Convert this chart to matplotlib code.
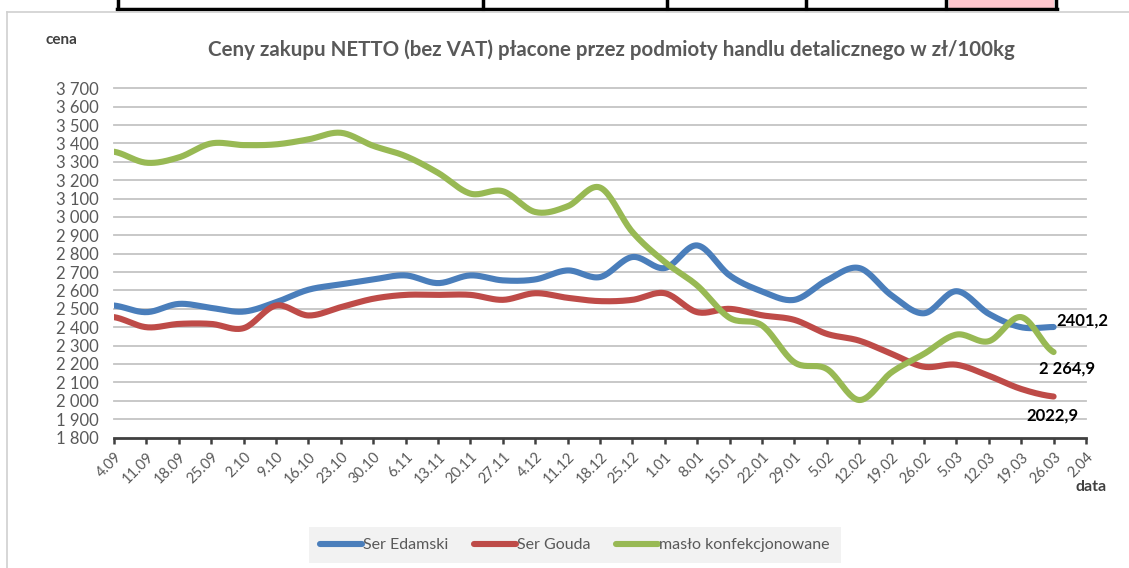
import numpy as np
import matplotlib
matplotlib.use("Agg")
import matplotlib.pyplot as plt
from matplotlib.lines import Line2D
from matplotlib.patches import Rectangle

# ---------------- data ----------------
dates = ["4.09", "11.09", "18.09", "25.09", "2.10", "9.10", "16.10", "23.10", "30.10",
         "6.11", "13.11", "20.11", "27.11", "4.12", "11.12", "18.12", "25.12", "1.01",
         "8.01", "15.01", "22.01", "29.01", "5.02", "12.02", "19.02", "26.02", "5.03",
         "12.03", "19.03", "26.03", "2.04"]

ser_edamski = [2518, 2482, 2527, 2505, 2485, 2536, 2604, 2633, 2660, 2682, 2640,
               2682, 2655, 2660, 2709, 2673, 2782, 2722, 2845, 2682, 2595, 2549,
               2655, 2722, 2573, 2476, 2596, 2473, 2400, 2401.2]
ser_gouda = [2455, 2400, 2418, 2418, 2395, 2518, 2464, 2509, 2555, 2576, 2576,
             2576, 2549, 2585, 2560, 2542, 2549, 2585, 2482, 2500, 2465, 2440,
             2364, 2327, 2255, 2185, 2196, 2136, 2064, 2022.9]
maslo = [3355, 3295, 3324, 3400, 3391, 3395, 3422, 3458, 3387, 3331, 3240,
         3127, 3140, 3027, 3058, 3160, 2918, 2755, 2627, 2451, 2410, 2209,
         2173, 2004, 2155, 2255, 2360, 2324, 2455, 2264.9]

series_names = ["Ser Edamski", "Ser Gouda", "masło konfekcjonowane"]
end_labels = ["2401,2", "2022,9", "2 264,9"]
y_ticks = list(range(1800, 3701, 100))

title = "Ceny zakupu NETTO (bez VAT) płacone przez podmioty handlu detalicznego w zł/100kg"

# ---------------- style ----------------
W, H = 1129, 568
FONT = "Lato"
colors = ["#4a7ebb", "#be4b48", "#98b954"]
gray_txt = "#595959"


def fx(x):
    return x / W


def fy(y):
    return 1 - y / H


def smooth(y, n=20):
    """Catmull-Rom spline through the points (like Excel's smoothed line)."""
    y = np.asarray(y, float)
    x = np.arange(len(y), dtype=float)
    P = np.concatenate([[y[0]], y, [y[-1]]])
    xs, ys = [], []
    t = np.linspace(0, 1, n, endpoint=False)
    for i in range(len(y) - 1):
        p0, p1, p2, p3 = P[i], P[i + 1], P[i + 2], P[i + 3]
        m1 = (p2 - p0) / 2
        m2 = (p3 - p1) / 2
        h00 = 2 * t**3 - 3 * t**2 + 1
        h10 = t**3 - 2 * t**2 + t
        h01 = -2 * t**3 + 3 * t**2
        h11 = t**3 - t**2
        ys.append(h00 * p1 + h10 * m1 + h01 * p2 + h11 * m2)
        xs.append(x[i] + t)
    xs.append([x[-1]])
    ys.append([y[-1]])
    return np.concatenate(xs), np.concatenate(ys)


fig = plt.figure(figsize=(W / 100, H / 100), dpi=100)
fig.patch.set_facecolor("white")

# top table strip
fig.add_artist(Rectangle((fx(949), fy(8)), fx(1054) - fx(949), fy(0) - fy(8),
                         transform=fig.transFigure, facecolor="#ffc7ce", edgecolor="none"))
fig.add_artist(Line2D([fx(117), fx(1057)], [fy(9), fy(9)], transform=fig.transFigure,
                      color="black", lw=2.5))
for xv in [118, 483, 667, 806, 946, 1056]:
    fig.add_artist(Line2D([fx(xv), fx(xv)], [fy(0), fy(9)], transform=fig.transFigure,
                          color="black", lw=2.5))
# chart frame
fig.add_artist(Line2D([fx(7), fx(1129)], [fy(12), fy(12)], transform=fig.transFigure,
                      color="#d0d0d0", lw=1.2))
fig.add_artist(Line2D([fx(7), fx(7)], [fy(12), fy(568)], transform=fig.transFigure,
                      color="#d0d0d0", lw=1.2))

# axes
left, right, top, bottom = 114, 1086, 88.3, 437.5
ax = fig.add_axes([fx(left), fy(bottom), fx(right) - fx(left), fy(top) - fy(bottom)])
ax.set_facecolor("none")
ax.set_xlim(0, len(dates) - 1)
ax.set_ylim(1800, 3700)

ax.set_yticks(y_ticks)
ax.set_yticklabels([f"{v:,}".replace(",", " ") for v in y_ticks],
                   fontfamily=FONT, fontsize=12, color=gray_txt)
ax.tick_params(axis="y", length=0, pad=11)
ax.set_xticks(range(len(dates)))
ax.set_xticklabels(dates, rotation=45, ha="right", va="top", rotation_mode="anchor",
                   fontfamily=FONT, fontsize=10.5, color=gray_txt)
ax.tick_params(axis="x", direction="out", length=4, width=1.8, color="#404040", pad=5)

for s in ["top", "right", "left"]:
    ax.spines[s].set_visible(False)
ax.spines["bottom"].set_color("#404040")
ax.spines["bottom"].set_linewidth(2.0)

for v in y_ticks[1:]:
    ax.axhline(v, color="#c4c4c4", lw=1.3, zorder=0, clip_on=False)

all_series = [ser_edamski, ser_gouda, maslo]
for vals, c, name in zip(all_series, colors, series_names):
    xs, ys = smooth(vals)
    ax.plot(xs, ys, color=c, lw=4.4, solid_capstyle="round", solid_joinstyle="round",
            label=name, zorder=3)

# end labels
offsets = [(3, 6), (-1, -19), (13, -16)]
has = ["left", "center", "center"]
for vals, lab, off, ha in zip(all_series, end_labels, offsets, has):
    ax.annotate(lab, (len(vals) - 1, vals[-1]), xytext=(off[0] * 0.72, off[1] * 0.72),
                textcoords="offset points", ha=ha, va="center", fontfamily=FONT,
                fontweight="bold", fontsize=12, color="black", zorder=5)

# texts
fig.text(fx(611), fy(50), title, ha="center", va="center", fontfamily=FONT,
         fontweight="bold", fontsize=14.8, color=gray_txt)
fig.text(fx(45), fy(40), "cena", ha="left", va="center", fontfamily=FONT,
         fontweight="bold", fontsize=11, color="#404040")
fig.text(fx(1076), fy(487), "data", ha="left", va="center", fontfamily=FONT,
         fontweight="bold", fontsize=11.5, color="#404040")

# legend
handles = [Line2D([], [], color=c, lw=4.4, solid_capstyle="round") for c in colors]
leg = fig.legend(handles, series_names, loc="center", bbox_to_anchor=(fx(575), fy(545)),
                 ncol=3, frameon=True, fancybox=False, facecolor="#f2f2f2",
                 edgecolor="none", framealpha=1, handlelength=2.6, handletextpad=0.1,
                 columnspacing=1.6, borderpad=0.7,
                 prop={"family": FONT, "size": 11.5})
for t in leg.get_texts():
    t.set_color(gray_txt)

fig.savefig("out.png", dpi=100)
